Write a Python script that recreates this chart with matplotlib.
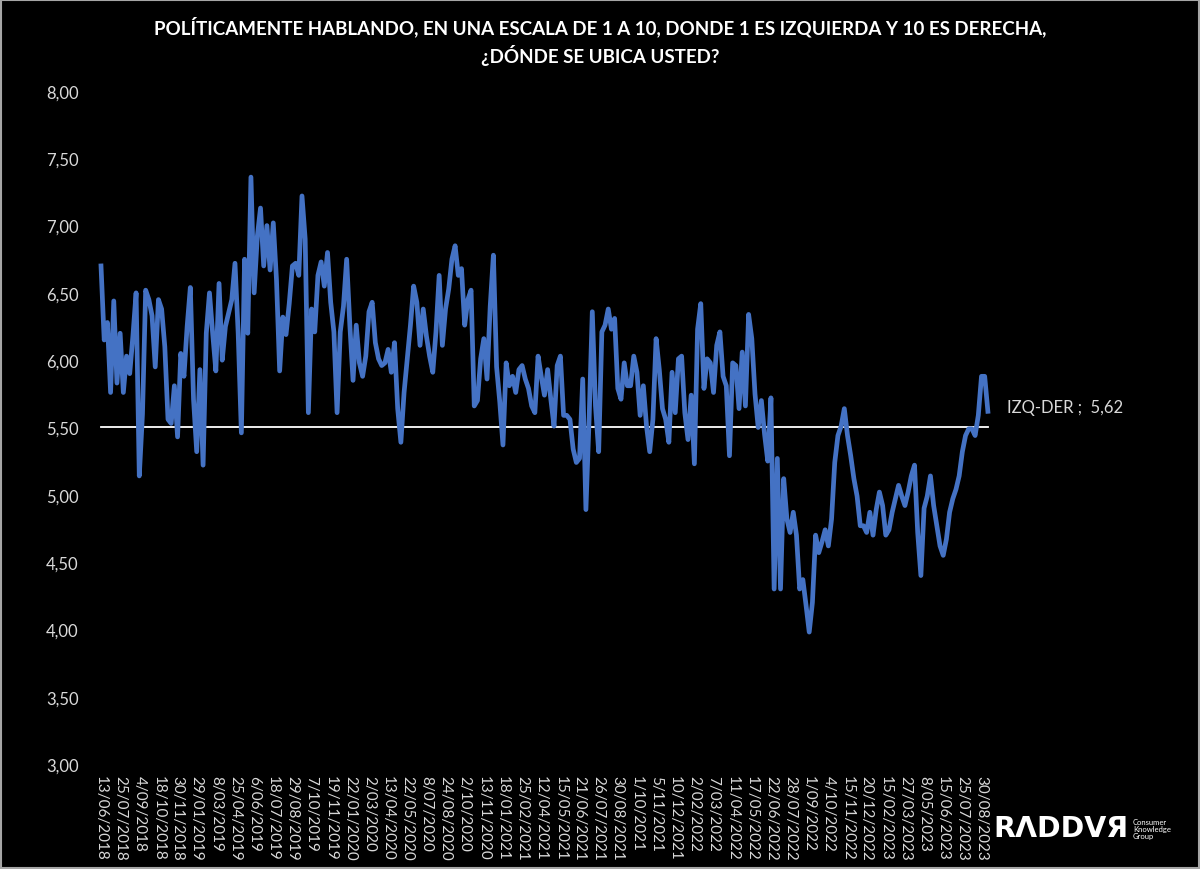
import matplotlib
matplotlib.use("Agg")
import matplotlib.pyplot as plt
from matplotlib.patches import Rectangle

# fechas que aparecen en el eje (una cada 6 mediciones)
fechas = [
    "13/06/2018", "25/07/2018", "4/09/2018", "18/10/2018", "30/11/2018",
    "29/01/2019", "8/03/2019", "25/04/2019", "6/06/2019", "18/07/2019",
    "29/08/2019", "7/10/2019", "19/11/2019", "22/01/2020", "2/03/2020",
    "13/04/2020", "22/05/2020", "8/07/2020", "24/08/2020", "2/10/2020",
    "13/11/2020", "18/01/2021", "25/02/2021", "12/04/2021", "15/05/2021",
    "21/06/2021", "26/07/2021", "30/08/2021", "1/10/2021", "5/11/2021",
    "10/12/2021", "2/02/2022", "7/03/2022", "11/04/2022", "17/05/2022",
    "22/06/2022", "28/07/2022", "1/09/2022", "4/10/2022", "15/11/2022",
    "20/12/2022", "15/02/2023", "27/03/2023", "8/05/2023", "15/06/2023",
    "25/07/2023", "30/08/2023",
]
paso_fechas = 6

# promedio izquierda-derecha (1 a 10)
izq_der = [
    6.70, 6.15, 6.28, 5.76, 6.44, 5.83, 6.20, 5.76, 6.03, 5.90,
    6.18, 6.50, 5.14, 5.60, 6.52, 6.45, 6.33, 5.95, 6.45, 6.38,
    6.10, 5.56, 5.53, 5.81, 5.43, 6.05, 5.88, 6.25, 6.54, 5.71,
    5.32, 5.93, 5.22, 6.20, 6.50, 6.20, 5.92, 6.57, 6.00, 6.25,
    6.35, 6.45, 6.72, 6.20, 5.46, 6.75, 6.20, 7.36, 6.50, 6.92,
    7.13, 6.70, 7.00, 6.67, 7.02, 6.60, 5.92, 6.32, 6.19, 6.42,
    6.70, 6.72, 6.63, 7.22, 6.90, 5.61, 6.38, 6.21, 6.63, 6.73,
    6.55, 6.80, 6.43, 6.21, 5.61, 6.21, 6.40, 6.75, 6.26, 5.85,
    6.26, 5.98, 5.88, 6.03, 6.36, 6.43, 6.13, 6.01, 5.96, 5.98,
    6.08, 5.91, 6.13, 5.64, 5.39, 5.76, 6.01, 6.26, 6.55, 6.43,
    6.11, 6.38, 6.18, 6.03, 5.91, 6.21, 6.63, 6.11, 6.38, 6.53,
    6.75, 6.85, 6.63, 6.68, 6.26, 6.45, 6.52, 5.66, 5.70, 6.01,
    6.16, 5.86, 6.40, 6.78, 5.95, 5.69, 5.37, 5.98, 5.81, 5.88,
    5.76, 5.93, 5.96, 5.86, 5.79, 5.66, 5.61, 6.03, 5.88, 5.74,
    5.93, 5.71, 5.51, 5.96, 6.03, 5.59, 5.59, 5.56, 5.34, 5.24,
    5.27, 5.86, 4.89, 5.56, 6.36, 5.66, 5.32, 6.21, 6.26, 6.38,
    6.23, 6.31, 5.79, 5.71, 5.98, 5.81, 5.81, 6.03, 5.91, 5.59,
    5.81, 5.51, 5.32, 5.56, 6.16, 5.93, 5.64, 5.56, 5.39, 5.91,
    5.61, 6.01, 6.03, 5.61, 5.41, 5.74, 5.23, 6.23, 6.42, 5.79,
    6.01, 5.98, 5.76, 6.11, 6.21, 5.88, 5.81, 5.29, 5.98, 5.96,
    5.64, 6.06, 5.66, 6.34, 6.16, 5.75, 5.50, 5.70, 5.45, 5.25,
    5.72, 4.30, 5.27, 4.30, 5.12, 4.82, 4.72, 4.87, 4.70, 4.30,
    4.37, 4.18, 3.98, 4.20, 4.70, 4.57, 4.65, 4.74, 4.62, 4.82,
    5.24, 5.44, 5.51, 5.64, 5.44, 5.29, 5.12, 4.99, 4.77, 4.77,
    4.72, 4.87, 4.70, 4.89, 5.02, 4.92, 4.70, 4.74, 4.87, 4.97,
    5.07, 4.99, 4.92, 5.02, 5.14, 5.22, 4.72, 4.40, 4.90, 4.99,
    5.14, 4.92, 4.77, 4.62, 4.55, 4.67, 4.87, 4.97, 5.04, 5.14,
    5.32, 5.44, 5.49, 5.49, 5.44, 5.59, 5.88, 5.88, 5.62,
]
referencia = 5.5
ultimo = izq_der[-1]

y_ticks = [3.0, 3.5, 4.0, 4.5, 5.0, 5.5, 6.0, 6.5, 7.0, 7.5, 8.0]

titulo = ("POLÍTICAMENTE HABLANDO, EN UNA ESCALA DE 1 A 10, DONDE 1 ES IZQUIERDA Y 10 ES DERECHA,\n"
          "¿DÓNDE SE UBICA USTED?")

plt.rcParams['font.family'] = ['Lato', 'DejaVu Sans']

fig = plt.figure(figsize=(12, 8.7), dpi=100, facecolor='black')
ax = fig.add_axes([90 / 1200, 0.1207, 910 / 1200, 0.7736])
ax.set_facecolor('black')

x = list(range(len(izq_der)))
ax.plot(x, [referencia] * len(x), color='white', linewidth=1.3, zorder=2)
ax.plot(x, izq_der, color='#4472C4', linewidth=3.4, solid_joinstyle='round', zorder=3)

ax.set_ylim(3, 8)
ax.set_xlim(-3.45, 281.8)
ax.set_yticks(y_ticks)
ax.set_yticklabels([f"{v:.2f}".replace('.', ',') for v in y_ticks],
                   color='#D9D9D9', fontsize=12)
ax.set_xticks(range(0, len(fechas) * paso_fechas, paso_fechas))
ax.set_xticklabels(fechas, rotation=270, color='#D9D9D9', fontsize=11, va='top', ha='center')
ax.tick_params(length=0, pad=8)
for s in ax.spines.values():
    s.set_visible(False)

ax.annotate(f"IZQ-DER ;  {ultimo:.2f}".replace('.', ','), xy=(x[-1], ultimo),
            xytext=(14, 3), textcoords='offset points', color='#D9D9D9',
            fontsize=12, va='center', ha='left')

fig.text(0.5, 0.981, titulo, ha='center', va='top', color='white',
         fontsize=13.5, fontweight='bold', linespacing=1.45)

# logo
fig.text(0.828, 0.047, "RΛDDVЯ", color='white', fontsize=20.5, fontweight='bold',
         family=['DejaVu Sans'], va='center', ha='left')
fig.text(0.944, 0.047, "Consumer\nKnowledge\nGroup", color='white', fontsize=5.5,
         va='center', ha='left', linespacing=1.0)

fig.patches.append(Rectangle((0.001, 0.001), 0.998, 0.998, transform=fig.transFigure,
                             fill=False, edgecolor='#A6A6A6', linewidth=1.5))

plt.savefig('out.png', dpi=100, facecolor='black')
plt.close()
